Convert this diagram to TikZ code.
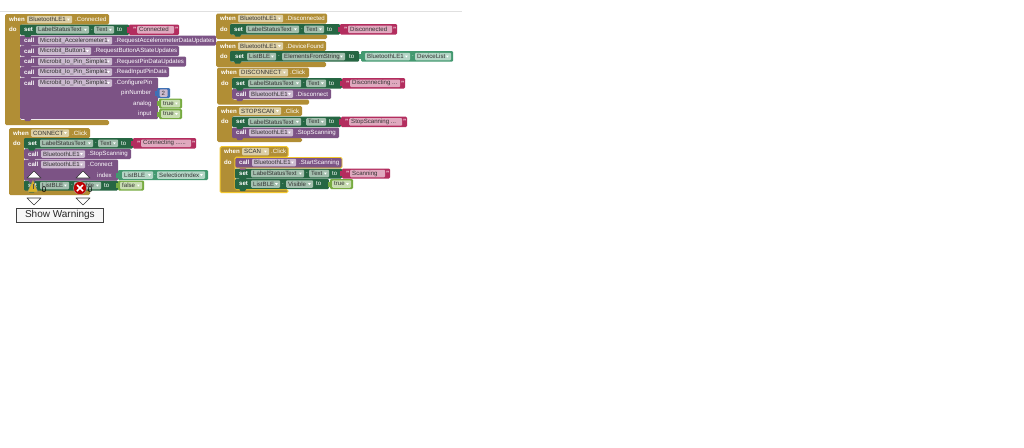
\documentclass[tikz,border=0pt]{standalone}
\usepackage{fontspec}
\setmainfont{Liberation Sans}
\definecolor{cgold}{HTML}{B18E35}
\definecolor{cgoldf}{HTML}{DCCFA6}
\definecolor{cgreen}{HTML}{266643}
\definecolor{cgreenf}{HTML}{A3BFAE}
\definecolor{cpurple}{HTML}{7C5385}
\definecolor{cpurplef}{HTML}{CBBACF}
\definecolor{cpink}{HTML}{B32D5E}
\definecolor{cpinkf}{HTML}{E0A9BF}
\definecolor{clgreen}{HTML}{77AB41}
\definecolor{clgreenf}{HTML}{C9DDB3}
\definecolor{cgetter}{HTML}{439970}
\definecolor{cgetterf}{HTML}{B4D6C6}
\definecolor{cblue}{HTML}{3F71B5}
\definecolor{cedge}{HTML}{F2C72E}
\tikzset{
  x=1pt,y=-1pt,
  blockface/.style={rounded corners=1.2pt},
  wtext/.style={anchor=west,inner sep=0pt,text=white,font=\fontsize{6.1}{6}\selectfont},
  ftext/.style={anchor=west,inner sep=0pt,text=black!80,font=\fontsize{6.1}{6}\selectfont},
  fbox/.style={anchor=west,inner sep=0pt,minimum height=7.5pt,rounded corners=1pt},
  marker/.style={fill=white,draw=black!80,line width=0.6pt,line join=round},
}
\newcounter{lblc}
% text on a block
\newcommand{\lb}[3]{\stepcounter{lblc}\node[wtext] (l\arabic{lblc}) at ({#1},{#2}) {#3};}
% text field with no dropdown: x, y centre, width, text, fill
\newcommand{\tf}[5]{\stepcounter{lblc}
  \node[fbox,fill=#5,minimum width={(#3)*1pt}] (f\arabic{lblc}) at ({#1},{#2}) {};
  \node[ftext] (t\arabic{lblc}) at ([xshift=2pt]f\arabic{lblc}.west) {#4};}
% dropdown field: x, y centre, width, text, fill
\newcommand{\fd}[5]{\tf{#1}{#2}{#3}{#4}{#5}
  \fill[white] ([xshift=-5.5pt,yshift=1pt]f\arabic{lblc}.east) -- ++(3,0) -- ++(-1.5,2) -- cycle;}
% statement block with a lower bump
\newcommand{\st}[5]{\fill[blockface,#1] (#2,#3) rectangle (#4,#5);
  \fill[#1] ({#2+4},{#5-0.5}) -- ({#2+5.5},{#5+2}) -- ({#2+10},{#5+2}) -- ({#2+11.5},{#5-0.5}) -- cycle;}
% value block with a left tab
\newcommand{\vl}[5]{\fill[blockface,#1] (#2,#3) rectangle (#4,#5);
  \fill[#1] ({#2-2},{#3+2.5}) rectangle ({#2+1},{#5-2.5});}
% event block: x1,y1,xr,yh,xarm,ybar,yb
\newcommand{\wh}[7]{\fill[cgold,rounded corners=1.5pt] (#1,#2) -- (#3,#2) -- (#3,#4) -- (#5,#4) -- (#5,#6) -- (#3,#6) -- (#3,#7) -- (#1,#7) -- cycle;}
% set Label.Text row x0,y1,y2,xend(pink start)
\newcommand{\setrow}[4]{\st{cgreen}{#1}{#2}{#4}{#3}
  \lb{#1+4}{(#2+#3)/2}{\textbf{set}}
  \fd{#1+16}{(#2+#3)/2}{53}{LabelStatusText}{cgreenf}
  \lb{#1+71}{(#2+#3)/2}{.}
  \fd{#1+74}{(#2+#3)/2}{20}{Text}{cgreenf}
  \lb{#1+97}{(#2+#3)/2}{to}}
% pink string x1,y1,x2,y2,text
\newcommand{\strv}[5]{\vl{cpink}{#1}{#2}{#3}{#4}
  \lb{#1+4}{(#2+#4)/2}{\textbf{"}}
  \tf{#1+8}{(#2+#4)/2}{#3-#1-13}{#5}{cpinkf}
  \lb{#3-4}{(#2+#4)/2}{\textbf{"}}}
% boolean
\newcommand{\boolv}[5]{\vl{clgreen}{#1}{#2}{#3}{#4}
  \fd{#1+2}{(#2+#4)/2}{#3-#1-4}{#5}{clgreenf}}
\begin{document}
\begin{tikzpicture}
\useasboundingbox (0,0) rectangle (1024,447);
\fill[white] (0,0) rectangle (1024,447);
\fill[black!12] (0,11.2) rectangle (462,12.2);

% ---- when BluetoothLE1.Connected
\wh{5}{14}{109}{24.5}{20}{120}{125}
\lb{9}{19.5}{\textbf{when}}
\fd{27}{19.5}{45}{BluetoothLE1}{cgoldf}
\lb{75}{19.5}{.Connected}
\lb{9}{29.5}{\textbf{do}}
\st{cpurple}{20}{77.5}{158}{119}
\lb{24}{83}{\textbf{call}}
\fd{38}{83}{74}{Microbit\_Io\_Pin\_Simple1}{cpurplef}
\lb{115}{83}{.ConfigurePin}
\lb{121}{93}{pinNumber}
\lb{133}{103.5}{analog}
\lb{138}{114}{input}
\vl{cblue}{157}{88}{170}{98}
\node[fbox,fill=cpurplef,minimum width=8pt] (pinval) at (159.5,93) {};
\node[ftext] (pintxt) at (161.5,93) {2};
\boolv{159}{98.5}{182}{108.5}{true}
\boolv{159}{109}{182}{119}{true}
\st{cpurple}{20}{67}{169}{77}
\lb{24}{72}{\textbf{call}}
\fd{38}{72}{74}{Microbit\_Io\_Pin\_Simple1}{cpurplef}
\lb{115}{72}{.ReadInputPinData}
\st{cpurple}{20}{56.5}{186}{66.5}
\lb{24}{61.5}{\textbf{call}}
\fd{38}{61.5}{74}{Microbit\_Io\_Pin\_Simple1}{cpurplef}
\lb{115}{61.5}{.RequestPinDataUpdates}
\st{cpurple}{20}{46}{179}{56}
\lb{24}{51}{\textbf{call}}
\fd{38}{51}{53}{Microbit\_Button1}{cpurplef}
\lb{94}{51}{.RequestButtonAStateUpdates}
\st{cpurple}{20}{35.5}{216}{45.5}
\lb{24}{40.5}{\textbf{call}}
\fd{38}{40.5}{74}{Microbit\_Accelerometer1}{cpurplef}
\lb{115}{40.5}{.RequestAccelerometerDataUpdates}
\setrow{20}{24.5}{35}{129}
\strv{129}{24.5}{179}{35}{Connected}

% ---- when CONNECT.Click
\wh{9}{128}{90}{138}{24}{188}{195}
\lb{13}{133}{\textbf{when}}
\fd{31}{133}{38}{CONNECT}{cgoldf}
\lb{72}{133}{.Click}
\lb{13}{143}{\textbf{do}}
\st{cgreen}{24}{180.5}{118}{190.5}
\lb{28}{185.5}{\textbf{set}}
\fd{40}{185.5}{29}{ListBLE}{cgreenf}
\lb{71}{185.5}{.}
\fd{74}{185.5}{27}{Visible}{cgreenf}
\lb{104}{185.5}{to}
\boolv{118}{180.5}{144}{190.5}{false}
\st{cpurple}{24}{159.5}{118}{180.5}
\lb{28}{164.5}{\textbf{call}}
\fd{41}{164.5}{44}{BluetoothLE1}{cpurplef}
\lb{88}{164.5}{.Connect}
\lb{97}{175}{index}
\vl{cgetter}{118}{170}{208}{180}
\fd{122}{175}{31}{ListBLE}{cgetterf}
\lb{154}{175}{.}
\fd{157}{175}{48}{SelectionIndex}{cgetterf}
\st{cpurple}{24}{149}{131}{159}
\lb{28}{154}{\textbf{call}}
\fd{41}{154}{44}{BluetoothLE1}{cpurplef}
\lb{88}{154}{.StopScanning}
\setrow{24}{138}{148.5}{133}
\strv{133}{138}{196}{148.5}{Connecting ......}

% warning overlays
\draw[marker] (27,178) -- (34,171) -- (41,178) -- cycle;
\draw[marker] (76,178) -- (83,171) -- (90,178) -- cycle;
\draw[marker] (27,198) -- (41,198) -- (34,205) -- cycle;
\draw[marker] (76,198) -- (90,198) -- (83,205) -- cycle;
\fill[cedge!90!black,draw=black!50,line width=0.3pt,line join=round] (33,180) -- (38,192) -- (27.5,192) -- cycle;
\fill[black!70] (32.6,184) rectangle (33.4,189);
\node[circle,fill=red!75!black,draw=black!35,line width=0.4pt,minimum size=13pt,inner sep=0pt] (errmark) at (80,188) {};
\draw[white,line width=1.5pt] ([xshift=-3pt,yshift=-3pt]errmark.center) -- ([xshift=3pt,yshift=3pt]errmark.center);
\draw[white,line width=1.5pt] ([xshift=-3pt,yshift=3pt]errmark.center) -- ([xshift=3pt,yshift=-3pt]errmark.center);
\node[inner sep=0pt,font=\fontsize{8}{8}\selectfont] (warncount) at (44,189.5) {0};
\node[inner sep=0pt,font=\fontsize{8}{8}\selectfont] (errcount) at (90,189.5) {0};
\node[draw=black!75,fill=black!3,line width=0.7pt,minimum width=87pt,minimum height=14pt,inner sep=0pt,anchor=north west,text=black!85,font=\fontsize{10}{10}\selectfont] (warnbox) at (16,208) {Show Warnings};

% ---- Disconnected
\wh{216}{13.5}{327}{23.5}{230}{34.5}{39}
\lb{220}{18.5}{\textbf{when}}
\fd{238}{18.5}{45}{BluetoothLE1}{cgoldf}
\lb{286}{18.5}{.Disconnected}
\lb{220}{29}{\textbf{do}}
\setrow{230}{24}{34.5}{340}
\strv{340}{24}{397}{34.5}{Disconnected}

% ---- DeviceFound
\wh{216}{41}{326}{51}{230}{62}{67}
\lb{220}{46}{\textbf{when}}
\fd{238}{46}{45}{BluetoothLE1}{cgoldf}
\lb{286}{46}{.DeviceFound}
\lb{220}{56.5}{\textbf{do}}
\st{cgreen}{230}{51}{359}{61.7}
\lb{235}{56.5}{\textbf{set}}
\fd{247}{56.5}{29}{ListBLE}{cgreenf}
\lb{278}{56.5}{.}
\fd{282}{56.5}{63}{ElementsFromString}{cgreenf}
\lb{349}{56.5}{to}
\vl{cgetter}{361}{51}{453}{61.7}
\fd{365}{56.5}{45}{BluetoothLE1}{cgetterf}
\lb{412}{56.5}{.}
\fd{415}{56.5}{36}{DeviceList}{cgetterf}

% ---- DISCONNECT
\wh{217}{67.5}{309}{77.5}{232}{99.5}{104.5}
\lb{221}{72.5}{\textbf{when}}
\fd{239}{72.5}{49}{DISCONNECT}{cgoldf}
\lb{290}{72.5}{.Click}
\lb{221}{83}{\textbf{do}}
\st{cpurple}{232}{89}{331}{99}
\lb{236}{94}{\textbf{call}}
\fd{249}{94}{44}{BluetoothLE1}{cpurplef}
\lb{296}{94}{.Disconnect}
\setrow{232}{78}{88.6}{342}
\strv{342}{78}{405}{88.6}{Disconnecting ...}

% ---- STOPSCAN
\wh{217}{106}{302}{116}{232}{138}{142}
\lb{221}{111}{\textbf{when}}
\fd{239}{111}{42}{STOPSCAN}{cgoldf}
\lb{284}{111}{.Click}
\lb{221}{121.5}{\textbf{do}}
\st{cpurple}{232}{127.5}{339}{138}
\lb{236}{132.5}{\textbf{call}}
\fd{249}{132.5}{44}{BluetoothLE1}{cpurplef}
\lb{296}{132.5}{.StopScanning}
\setrow{232}{116.7}{127}{341}
\strv{341}{116.7}{407}{127}{StopScanning ...}

% ---- SCAN (selected)
\draw[cedge,line width=1pt,fill=cgold,rounded corners=1.5pt] (220,146.7) -- (288,146.7) -- (288,157) -- (235,157) -- (235,189.5) -- (288,189.5) -- (288,192.7) -- (220,192.7) -- cycle;
\lb{224}{151.5}{\textbf{when}}
\fd{242}{151.5}{27}{SCAN}{cgoldf}
\lb{271}{151.5}{.Click}
\lb{224}{162}{\textbf{do}}
\st{cgreen}{235}{179}{329}{189}
\lb{239}{184}{\textbf{set}}
\fd{251}{184}{29}{ListBLE}{cgreenf}
\lb{282}{184}{.}
\fd{286}{184}{27}{Visible}{cgreenf}
\lb{316}{184}{to}
\boolv{330}{179}{353}{189}{true}
\setrow{235}{168.5}{178.5}{342}
\strv{342}{168.5}{390}{178.5}{Scanning}
\st{cpurple}{235}{157.5}{342}{168}
\draw[cedge,line width=0.8pt,rounded corners=1.2pt] (235,157.5) rectangle (342,168);
\lb{239}{162.5}{\textbf{call}}
\fd{252}{162.5}{44}{BluetoothLE1}{cpurplef}
\lb{299}{162.5}{.StartScanning}
\end{tikzpicture}
\end{document}
